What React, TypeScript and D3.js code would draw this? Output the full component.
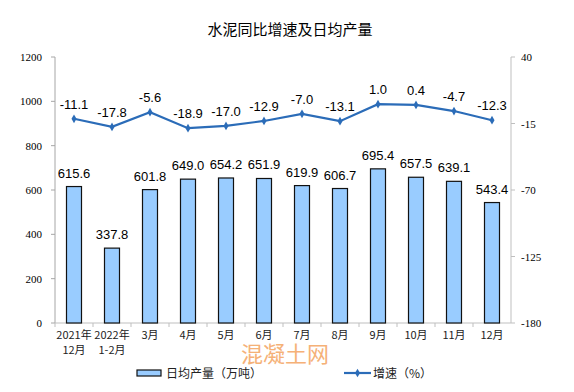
import React from "react";
import * as d3 from "d3";

// data
const months = ["2021年\n12月", "2022年\n1-2月", "3月", "4月", "5月", "6月", "7月", "8月", "9月", "10月", "11月", "12月"];
const output = [615.6, 337.8, 601.8, 649.0, 654.2, 651.9, 619.9, 606.7, 695.4, 657.5, 639.1, 543.4];
const growth = [-11.1, -17.8, -5.6, -18.9, -17.0, -12.9, -7.0, -13.1, 1.0, 0.4, -4.7, -12.3];
const leftTicks = [0, 200, 400, 600, 800, 1000, 1200];
const rightTicks = [-180, -125, -70, -15, 40];

const W = 574, H = 392;
const m = { left: 55, right: 511, top: 57, bottom: 323 };
const blue = "#2B6CB8";

export default function App() {
  const x = d3.scaleBand<string>().domain(months).range([m.left, m.right]);
  const yL = d3.scaleLinear().domain([0, 1200]).range([m.bottom, m.top]);
  const yR = d3.scaleLinear().domain([-180, 40]).range([m.bottom, m.top]);
  const cx = (i: number) => (x(months[i]) as number) + x.bandwidth() / 2;
  const line = d3.line<number>().x((_, i) => cx(i)).y(d => yR(d));
  const barW = 15;
  const diamond = d3.symbol(d3.symbolDiamond, 22);

  return (
    <svg width={W} height={H} style={{ position: "absolute", left: 0, top: 0, background: "#fff" }}>
      <text x={290} y={35} textAnchor="middle" fontSize={15} fontFamily="'Noto Sans CJK SC', sans-serif" fill="#000">
        水泥同比增速及日均产量
      </text>

      {/* left axis */}
      <line x1={m.left} x2={m.left} y1={m.top} y2={m.bottom} stroke="#a6a6a6" />
      {leftTicks.map(t => (
        <g key={"l" + t}>
          <line x1={m.left - 4} x2={m.left} y1={yL(t)} y2={yL(t)} stroke="#a6a6a6" />
          <text x={m.left - 13} y={yL(t) + 4} textAnchor="end" fontSize={11} fontFamily="'Liberation Serif', serif">{t}</text>
        </g>
      ))}
      {/* right axis */}
      <line x1={m.right} x2={m.right} y1={m.top} y2={m.bottom} stroke="#bfbfbf" />
      {rightTicks.map(t => (
        <g key={"r" + t}>
          <line x1={m.right} x2={m.right + 4} y1={yR(t)} y2={yR(t)} stroke="#bfbfbf" />
          <text x={m.right + 10} y={yR(t) + 4} fontSize={11} fontFamily="'Liberation Serif', serif">{t}</text>
        </g>
      ))}
      {/* bottom axis */}
      <line x1={m.left} x2={m.right} y1={m.bottom} y2={m.bottom} stroke="#bfbfbf" />
      {months.map((mo, i) => (
        <g key={"x" + i}>
          <line x1={x(mo) as number} x2={x(mo) as number} y1={m.bottom} y2={m.bottom + 4} stroke="#bfbfbf" />
          {mo.split("\n").map((s, j) => (
            <text key={j} x={cx(i)} y={339 + j * 15} textAnchor="middle" fontSize={11}
              fontFamily="'Noto Sans CJK SC', sans-serif" fill="#222">{s}</text>
          ))}
        </g>
      ))}

      {/* bars */}
      {output.map((v, i) => (
        <g key={"b" + i}>
          <rect x={cx(i) - barW / 2} y={yL(v)} width={barW} height={m.bottom - yL(v)}
            fill="#99CCFF" stroke="#111" strokeWidth={1.2} />
          <text x={cx(i)} y={yL(v) - 9} textAnchor="middle" fontSize={13}
            fontFamily="'Liberation Sans', Arial, sans-serif" fill="#000">{v.toFixed(1)}</text>
        </g>
      ))}

      {/* growth line */}
      <path d={line(growth) || ""} fill="none" stroke={blue} strokeWidth={2.2} />
      {growth.map((v, i) => (
        <g key={"p" + i}>
          <path d={diamond() || ""} transform={`translate(${cx(i)},${yR(v)})`} fill={blue} />
          <text x={cx(i)} y={yR(v) - 10} textAnchor="middle" fontSize={13}
            fontFamily="'Liberation Sans', Arial, sans-serif" fill="#000">{v.toFixed(1)}</text>
        </g>
      ))}

      {/* watermark */}
      <text x={241} y={362} fontSize={22} fill="#F4A460" opacity={0.85}
        fontFamily="'Noto Sans CJK SC', sans-serif">混凝土网</text>

      {/* legend */}
      <rect x={137} y={370} width={24} height={6} fill="#99CCFF" stroke="#111" strokeWidth={1.2} />
      <text x={166} y={378} fontSize={12} fontFamily="'Noto Sans CJK SC', sans-serif" fill="#222">日均产量（万吨）</text>
      <line x1={344} x2={371} y1={373} y2={373} stroke={blue} strokeWidth={2.2} />
      <path d={diamond() || ""} transform="translate(357.5,373)" fill={blue} />
      <text x={373} y={378} fontSize={12} fontFamily="'Noto Sans CJK SC', sans-serif" fill="#222">增速（%）</text>
    </svg>
  );
}
